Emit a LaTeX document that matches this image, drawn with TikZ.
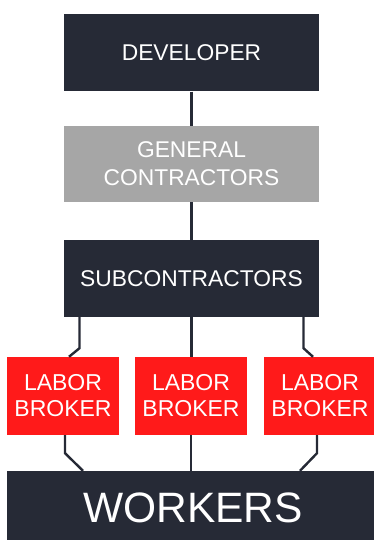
\documentclass[tikz,border=0pt]{standalone}
\usepackage{fontspec}
\setmainfont{Liberation Sans}
\usetikzlibrary{calc}
\definecolor{navy}{HTML}{262A36}
\definecolor{midgray}{HTML}{A6A6A6}
\definecolor{brokerred}{HTML}{FF1A1A}

\begin{document}
\begin{tikzpicture}[x=1pt,y=1pt,
	box/.style={rectangle,fill=navy,text=white,align=center,inner sep=0pt,
		font=\fontsize{22.8}{28}\selectfont},
	link/.style={draw=navy,line width=2.4pt}]
	\useasboundingbox (0,0) rectangle (373,540);
	\newcommand{\bw}{112} %broker width
	\node[box,minimum width=255,minimum height=77] (dev) at (191.5,487) {DEVELOPER}; %developer
	\node[box,fill=midgray,minimum width=255,minimum height=76] (gc) at (191.5,376) {GENERAL\\CONTRACTORS}; %general
	\node[box,minimum width=255,minimum height=77] (sub) at (191.5,261.5) {SUBCONTRACTORS}; %sub
	\foreach \i/\x in {1/63,2/191,3/320}{ %labor brokers
		\node[box,fill=brokerred,minimum width=\bw,minimum height=78,
			font=\fontsize{23}{26}\selectfont] (lb\i) at (\x,144) {LABOR\\BROKER};
	}
	\node[box,minimum width=372,minimum height=74,font=\fontsize{42.5}{42.5}\selectfont] (work) at (193,32) {WORKERS}; %workers
	\draw[link] (dev.south) -- (dev.south |- gc.north);
	\draw[link] (gc.south) -- (gc.south |- sub.north);
	\draw[link] ([xshift=-112pt]sub.south) -- ++(0,-31) -- ([xshift=6pt]lb1.north);
	\draw[link] (sub.south) -- (sub.south |- lb2.north);
	\draw[link] ([xshift=112pt]sub.south) -- ++(0,-31) -- ([xshift=-7pt]lb3.north);
	\draw[link] ([xshift=2pt]lb1.south) -- ++(0,-18) -- ([xshift=-110pt]work.north);
	\draw[link] (lb2.south) -- (lb2.south |- work.north);
	\draw[link] ([xshift=-3pt]lb3.south) -- ++(0,-18) -- ([xshift=107pt]work.north);
\end{tikzpicture}
\end{document}
